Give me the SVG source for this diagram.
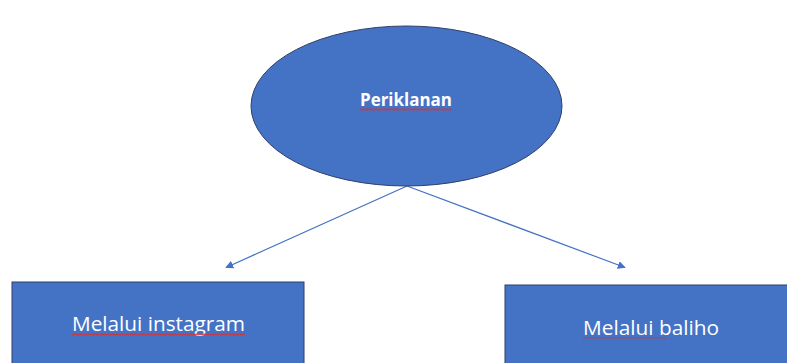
<svg xmlns="http://www.w3.org/2000/svg" width="787" height="363" viewBox="0 0 787 363">
<style>
.shape{fill:#4472C4;stroke:#2F3F6A;stroke-width:1}
.lbl{fill:#FFFFFF;font-family:"Open Sans","Liberation Sans",sans-serif;text-anchor:middle}
.conn{stroke:#4472C4;stroke-width:1.2;fill:none}
.squig{stroke:#E03030;stroke-width:0.9;fill:none}
</style>
<defs>
<marker id="arr" viewBox="0 0 10 10" refX="9" refY="5" markerWidth="8" markerHeight="8" markerUnits="userSpaceOnUse" orient="auto">
<path d="M0,0 L10,5 L0,10 z" fill="#4472C4"/>
</marker>
<pattern id="wave" width="4" height="3" patternUnits="userSpaceOnUse">
<path d="M0,2.5 L1,0.5 L2,2.5 L3,0.5 L4,2.5" stroke="#E03030" stroke-width="0.8" fill="none"/>
</pattern>
</defs>
<rect width="787" height="363" fill="#FFFFFF"/>
<g id="connectors">
<line class="conn" x1="407" y1="186" x2="226" y2="267.5" marker-end="url(#arr)"/>
<line class="conn" x1="407" y1="186" x2="625" y2="267.5" marker-end="url(#arr)"/>
</g>
<g id="periklanan">
<ellipse class="shape" cx="406.5" cy="106" rx="155.5" ry="80"/>
<text class="lbl" x="406" y="106" font-size="17" font-weight="bold" textLength="92" lengthAdjust="spacingAndGlyphs">Periklanan</text>
<rect x="360" y="108" width="92" height="3" fill="url(#wave)"/>
</g>
<g id="instagram">
<rect class="shape" x="12" y="282" width="292" height="90"/>
<text class="lbl" x="158.5" y="331" font-size="20" textLength="173" lengthAdjust="spacingAndGlyphs">Melalui instagram</text>
<rect x="72" y="333" width="173" height="3" fill="url(#wave)"/>
</g>
<g id="baliho">
<rect class="shape" x="505" y="285" width="290" height="90"/>
<text class="lbl" x="651" y="335" font-size="20" textLength="136" lengthAdjust="spacingAndGlyphs">Melalui baliho</text>
<rect x="583" y="337" width="84" height="3" fill="url(#wave)"/>
</g>
</svg>
